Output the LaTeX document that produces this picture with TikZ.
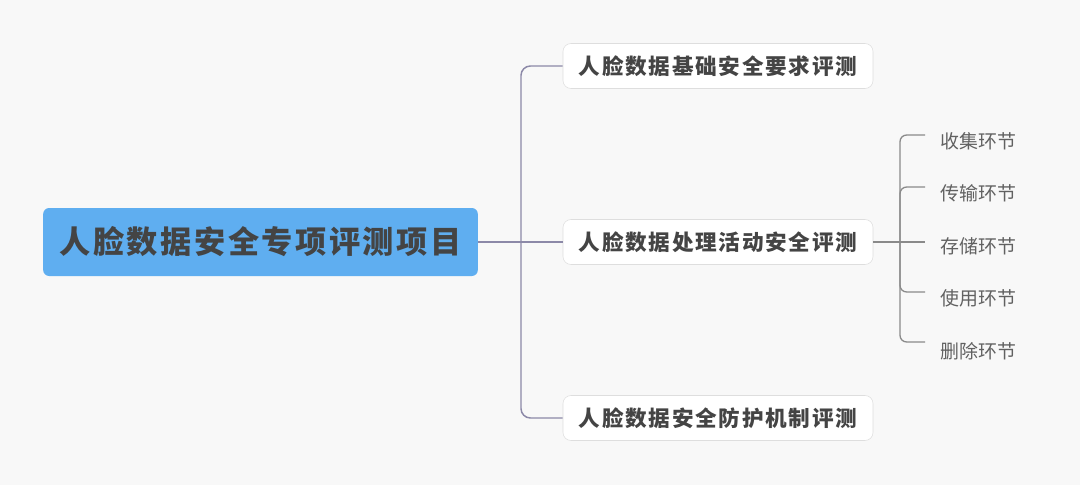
\documentclass[tikz,border=0pt]{standalone}
\usepackage{fontspec}
\newfontfamily\cjk[LetterSpace=8]{Noto Sans CJK SC}
\newfontfamily\cjkleaf{Noto Sans CJK SC}
\definecolor{bg}{HTML}{F8F8F8}
\definecolor{rootblue}{HTML}{5FAEF0}
\definecolor{inkgray}{HTML}{444444}
\definecolor{branch}{HTML}{8C89A8}
\definecolor{twig}{HTML}{8A8A8A}
\usepackage{tikz}
\usetikzlibrary{positioning}
\tikzset{
  root/.style={fill=rootblue, rounded corners=4.5pt, minimum width=326pt, minimum height=51pt,
    inner sep=0pt, text=inkgray, font=\cjk\bfseries\fontsize{23.4}{26}\selectfont},
  topic/.style={draw=black!13, fill=white, rounded corners=6pt, minimum width=232.5pt,
    minimum height=33.75pt, inner sep=0pt, text=inkgray, font=\cjk\bfseries\fontsize{16.2}{18}\selectfont},
  leaf/.style={anchor=west, inner xsep=0pt, text=black!62, font=\cjkleaf\fontsize{14.2}{16}\selectfont},
  link/.style={draw=branch, line width=1.1pt},
  twigline/.style={draw=twig, line width=1pt}
}
\begin{document}
\begin{tikzpicture}[x=0.75pt,y=-0.75pt]
\fill[bg] (0,0) rectangle (1080,485);
\node[root] (r) at (260.5,242) {人脸数据安全专项评测项目};
\node[topic] (t1) at (718,66) {人脸数据基础安全要求评测};
\node[topic] (t2) at (718,242) {人脸数据处理活动安全评测};
\node[topic] (t3) at (718,418) {人脸数据安全防护机制评测};
\coordinate (s) at (521,242);
\path[link] (r.east) -- (t2.west);
\path[link, rounded corners=7pt] (t1.west) -| (s) |- (t3.west);
% leaves of the middle topic
\node[leaf] (l1) at (940,141) {收集环节};
\node[leaf] (l2) at (940,193) {传输环节};
\node[leaf] (l3) at (940,246) {存储环节};
\node[leaf] (l4) at (940,298) {使用环节};
\node[leaf] (l5) at (940,351) {删除环节};
\coordinate (u) at (900,242);
\coordinate (e1) at (925,135);
\coordinate (e2) at (925,187);
\coordinate (e3) at (925,242);
\coordinate (e4) at (925,292);
\coordinate (e5) at (925,342);
\path[twigline] (t2.east) -- (e3);
\path[twigline, rounded corners=5pt] (e1) -| (u) |- (e5);
\path[twigline, rounded corners=5pt] (e2) -| (u) |- (e4);
\end{tikzpicture}
\end{document}
